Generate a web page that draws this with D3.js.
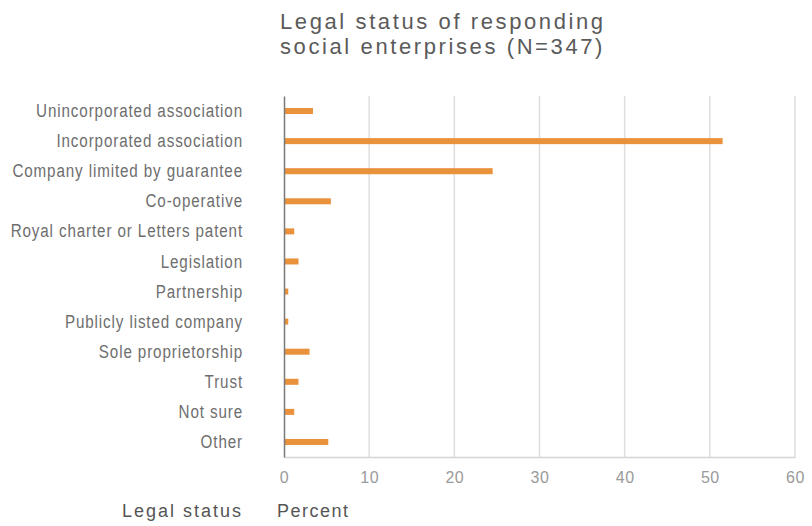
<!DOCTYPE html>
<html>
<head>
<meta charset="utf-8">
<script src="https://cdn.jsdelivr.net/npm/d3@7"></script>
<style>
  body { margin: 0; background: #fff; }
  svg { display: block; }
</style>
</head>
<body>
<div id="chart"></div>
<script>
const categories = [
  'Unincorporated association',
  'Incorporated association',
  'Company limited by guarantee',
  'Co-operative',
  'Royal charter or Letters patent',
  'Legislation',
  'Partnership',
  'Publicly listed company',
  'Sole proprietorship',
  'Trust',
  'Not sure',
  'Other'
];
const percents = [3.4, 51.5, 24.5, 5.5, 1.2, 1.7, 0.5, 0.5, 3.0, 1.7, 1.2, 5.2];
const xTicks = [0, 10, 20, 30, 40, 50, 60];
const titleLines = ['Legal status of responding', 'social enterprises (N=347)'];

const width = 812, height = 526;
const margin = { top: 96, right: 17, bottom: 69, left: 284 };

const svg = d3.select('#chart')
  .append('svg')
  .attr('width', width)
  .attr('height', height);

const x = d3.scaleLinear()
  .domain([0, 60])
  .range([margin.left, width - margin.right]);

const y = d3.scaleBand()
  .domain(categories)
  .range([margin.top, height - margin.bottom])
  .paddingInner(0.8)
  .paddingOuter(0.4);

// gridlines
svg.append('g')
  .selectAll('line')
  .data(xTicks.slice(1))
  .join('line')
  .attr('x1', d => x(d)).attr('x2', d => x(d))
  .attr('y1', margin.top).attr('y2', height - margin.bottom)
  .attr('stroke', '#dedede')
  .attr('stroke-width', 1.5);

// bottom axis
const xAxis = svg.append('g')
  .attr('transform', `translate(0,${height - margin.bottom})`)
  .call(d3.axisBottom(x).tickValues(xTicks).tickSize(0).tickPadding(15));
xAxis.select('.domain').attr('stroke', '#d4d4d4').attr('stroke-width', 1.5);
xAxis.selectAll('text')
  .attr('fill', '#9a9a9a')
  .style('font-family', 'Liberation Sans, Arial, sans-serif')
  .style('font-size', '16px')
  .style('letter-spacing', '0.5px');

// bars
svg.append('g')
  .selectAll('rect')
  .data(percents)
  .join('rect')
  .attr('x', x(0))
  .attr('y', (d, i) => y(categories[i]))
  .attr('width', d => x(d) - x(0))
  .attr('height', y.bandwidth())
  .attr('fill', '#e9913b');

// left axis - labels squeezed horizontally to look condensed
const squeeze = 0.8;
const yAxis = svg.append('g')
  .attr('transform', `translate(${margin.left},0)`)
  .call(d3.axisLeft(y).tickSize(0));
yAxis.select('.domain').attr('stroke', '#7a7a7a').attr('stroke-width', 1.5);
yAxis.selectAll('text')
  .attr('x', -41 / squeeze)
  .attr('transform', `scale(${squeeze},1)`)
  .attr('fill', '#6e6e6e')
  .style('font-family', 'Liberation Sans, Arial, sans-serif')
  .style('font-size', '19px')
  .style('letter-spacing', '1.1px');

// title
svg.append('text')
  .attr('x', 280)
  .attr('y', 29)
  .attr('fill', '#5a5a5a')
  .style('font-family', 'Liberation Sans, Arial, sans-serif')
  .style('font-size', '22px')
  .style('letter-spacing', '2.6px')
  .selectAll('tspan')
  .data(titleLines)
  .join('tspan')
  .attr('x', 280)
  .attr('dy', (d, i) => i === 0 ? 0 : 25)
  .text(d => d);

// axis titles
svg.append('text')
  .attr('x', 243)
  .attr('y', 517)
  .attr('text-anchor', 'end')
  .attr('fill', '#555')
  .style('font-family', 'Liberation Sans, Arial, sans-serif')
  .style('font-size', '18px')
  .style('letter-spacing', '2px')
  .text('Legal status');

svg.append('text')
  .attr('x', 277)
  .attr('y', 517)
  .attr('fill', '#555')
  .style('font-family', 'Liberation Sans, Arial, sans-serif')
  .style('font-size', '18px')
  .style('letter-spacing', '1.5px')
  .text('Percent');
</script>
</body>
</html>
